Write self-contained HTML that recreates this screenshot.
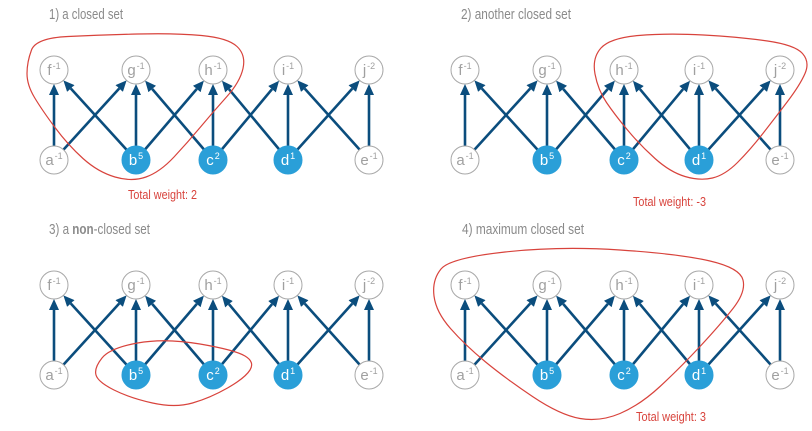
<!DOCTYPE html>
<html>
<head>
<meta charset="utf-8">
<style>
  html, body { margin: 0; padding: 0; background: #ffffff; }
  svg { display: block; }
  .title { font-family: "Liberation Sans", sans-serif; font-size: 15px; fill: #8a8a8a; }
  .tw { font-family: "Liberation Sans", sans-serif; font-size: 13px; fill: #d8433c; }
  .lbl { font-family: "Liberation Sans", sans-serif; font-size: 15px; fill: #a0a0a0; text-anchor: middle; }
  .lblw { font-family: "Liberation Sans", sans-serif; font-size: 15px; fill: #ffffff; text-anchor: middle; }
  .on { fill: #ffffff; stroke: #a8a8a8; stroke-width: 1; }
  .fill { fill: #2a9fd8; stroke: #2a9fd8; stroke-width: 1; }
  .e { stroke: #0b4d7d; stroke-width: 2.6; fill: none; marker-end: url(#ah); }
  .red { fill: none; stroke: #d8433c; stroke-width: 1.2; }
</style>
</head>
<body>
<svg width="812" height="431" viewBox="0 0 812 431" xmlns="http://www.w3.org/2000/svg">
  <defs>
    <marker id="ah" markerWidth="12" markerHeight="10" refX="0" refY="5" orient="auto" markerUnits="userSpaceOnUse">
      <path d="M0,0 L11,5 L0,10 z" fill="#0b4d7d"/>
    </marker>
    <g id="edges">
      <line class="e" x1="54" y1="146" x2="54" y2="95"/>
      <line class="e" x1="63.4" y1="149.7" x2="119.2" y2="88.5"/>
      <line class="e" x1="126.6" y1="149.7" x2="70.8" y2="88.5"/>
      <line class="e" x1="136" y1="146" x2="136" y2="95"/>
      <line class="e" x1="145.1" y1="149.4" x2="196.75" y2="89"/>
      <line class="e" x1="203.9" y1="149.4" x2="152.25" y2="89"/>
      <line class="e" x1="213" y1="146" x2="213" y2="95"/>
      <line class="e" x1="221.96" y1="149.24" x2="272" y2="89.21"/>
      <line class="e" x1="279.04" y1="149.24" x2="229" y2="89.21"/>
      <line class="e" x1="288" y1="146" x2="288" y2="95"/>
      <line class="e" x1="297.37" y1="149.59" x2="352.27" y2="88.59"/>
      <line class="e" x1="359.63" y1="149.59" x2="304.73" y2="88.59"/>
      <line class="e" x1="369" y1="146" x2="369" y2="95"/>
    </g>
  </defs>

  <!-- Titles -->
  <text class="title" x="49" y="19" textLength="74" lengthAdjust="spacingAndGlyphs">1) a closed set</text>
  <text class="title" x="461" y="19" textLength="110" lengthAdjust="spacingAndGlyphs">2) another closed set</text>
  <text class="title" x="49" y="234" textLength="101" lengthAdjust="spacingAndGlyphs">3) a <tspan font-weight="bold">non</tspan>-closed set</text>
  <text class="title" x="462" y="234" textLength="122" lengthAdjust="spacingAndGlyphs">4) maximum closed set</text>

  <!-- Panel 1 -->
  <g>
    <use href="#edges"/>
    <circle class="on" cx="54" cy="70" r="14"/><text class="lbl" x="54" y="75">f<tspan font-size="9" dx="1" dy="-6">-1</tspan></text>
    <circle class="on" cx="136" cy="70" r="14"/><text class="lbl" x="136" y="75">g<tspan font-size="9" dx="1" dy="-6">-1</tspan></text>
    <circle class="on" cx="213" cy="70" r="14"/><text class="lbl" x="213" y="75">h<tspan font-size="9" dx="1" dy="-6">-1</tspan></text>
    <circle class="on" cx="288" cy="70" r="14"/><text class="lbl" x="288" y="75">i<tspan font-size="9" dx="1" dy="-6">-1</tspan></text>
    <circle class="on" cx="369" cy="70" r="14"/><text class="lbl" x="369" y="75">j<tspan font-size="9" dx="1" dy="-6">-2</tspan></text>
    <circle class="on" cx="54" cy="160" r="14"/><text class="lbl" x="54" y="165">a<tspan font-size="9" dx="1" dy="-6">-1</tspan></text>
    <circle class="fill" cx="136" cy="160" r="14"/><text class="lblw" x="136" y="165">b<tspan font-size="9" dx="1" dy="-6">5</tspan></text>
    <circle class="fill" cx="213" cy="160" r="14"/><text class="lblw" x="213" y="165">c<tspan font-size="9" dx="1" dy="-6">2</tspan></text>
    <circle class="fill" cx="288" cy="160" r="14"/><text class="lblw" x="288" y="165">d<tspan font-size="9" dx="1" dy="-6">1</tspan></text>
    <circle class="on" cx="369" cy="160" r="14"/><text class="lbl" x="369" y="165">e<tspan font-size="9" dx="1" dy="-6">-1</tspan></text>
  </g>
  <path class="red" d="M27,73.5 Q27,62 31.5,50 Q36,38 68,36.5 Q100,35 137.5,34 Q175,33 201.5,35.5 Q228,38 237,46.5 Q246,55 243,68.5 Q240,82 226.5,97 Q213,112 200.5,127 Q188,142 174,157 Q160,172 146,177 Q132,182 115,177 Q98,172 83,158.5 Q68,145 55,127.5 Q42,110 34.5,97.5 Q27,85 27,73.5 Z"/>
  <text class="tw" x="128" y="199" textLength="69" lengthAdjust="spacingAndGlyphs">Total weight: 2</text>

  <!-- Panel 2 -->
  <g transform="translate(411,0)">
    <use href="#edges"/>
    <circle class="on" cx="54" cy="70" r="14"/><text class="lbl" x="54" y="75">f<tspan font-size="9" dx="1" dy="-6">-1</tspan></text>
    <circle class="on" cx="136" cy="70" r="14"/><text class="lbl" x="136" y="75">g<tspan font-size="9" dx="1" dy="-6">-1</tspan></text>
    <circle class="on" cx="213" cy="70" r="14"/><text class="lbl" x="213" y="75">h<tspan font-size="9" dx="1" dy="-6">-1</tspan></text>
    <circle class="on" cx="288" cy="70" r="14"/><text class="lbl" x="288" y="75">i<tspan font-size="9" dx="1" dy="-6">-1</tspan></text>
    <circle class="on" cx="369" cy="70" r="14"/><text class="lbl" x="369" y="75">j<tspan font-size="9" dx="1" dy="-6">-2</tspan></text>
    <circle class="on" cx="54" cy="160" r="14"/><text class="lbl" x="54" y="165">a<tspan font-size="9" dx="1" dy="-6">-1</tspan></text>
    <circle class="fill" cx="136" cy="160" r="14"/><text class="lblw" x="136" y="165">b<tspan font-size="9" dx="1" dy="-6">5</tspan></text>
    <circle class="fill" cx="213" cy="160" r="14"/><text class="lblw" x="213" y="165">c<tspan font-size="9" dx="1" dy="-6">2</tspan></text>
    <circle class="fill" cx="288" cy="160" r="14"/><text class="lblw" x="288" y="165">d<tspan font-size="9" dx="1" dy="-6">1</tspan></text>
    <circle class="on" cx="369" cy="160" r="14"/><text class="lbl" x="369" y="165">e<tspan font-size="9" dx="1" dy="-6">-1</tspan></text>
  </g>
  <path class="red" d="M595,74 Q592,58 601,48 Q610,38 638.5,35.5 Q667,33 703.5,35 Q740,37 767.5,41 Q795,45 802.5,53.5 Q810,62 805,73.5 Q800,85 787.5,101.5 Q775,118 762.5,134 Q750,150 737.5,162.5 Q725,175 712.5,178 Q700,181 685,176.5 Q670,172 655,158.5 Q640,145 627.5,130 Q615,115 606.5,102.5 Q598,90 595,74 Z"/>
  <text class="tw" x="633" y="206" textLength="73" lengthAdjust="spacingAndGlyphs">Total weight: -3</text>

  <!-- Panel 3 -->
  <g transform="translate(0,215)">
    <use href="#edges"/>
    <circle class="on" cx="54" cy="70" r="14"/><text class="lbl" x="54" y="75">f<tspan font-size="9" dx="1" dy="-6">-1</tspan></text>
    <circle class="on" cx="136" cy="70" r="14"/><text class="lbl" x="136" y="75">g<tspan font-size="9" dx="1" dy="-6">-1</tspan></text>
    <circle class="on" cx="213" cy="70" r="14"/><text class="lbl" x="213" y="75">h<tspan font-size="9" dx="1" dy="-6">-1</tspan></text>
    <circle class="on" cx="288" cy="70" r="14"/><text class="lbl" x="288" y="75">i<tspan font-size="9" dx="1" dy="-6">-1</tspan></text>
    <circle class="on" cx="369" cy="70" r="14"/><text class="lbl" x="369" y="75">j<tspan font-size="9" dx="1" dy="-6">-2</tspan></text>
    <circle class="on" cx="54" cy="160" r="14"/><text class="lbl" x="54" y="165">a<tspan font-size="9" dx="1" dy="-6">-1</tspan></text>
    <circle class="fill" cx="136" cy="160" r="14"/><text class="lblw" x="136" y="165">b<tspan font-size="9" dx="1" dy="-6">5</tspan></text>
    <circle class="fill" cx="213" cy="160" r="14"/><text class="lblw" x="213" y="165">c<tspan font-size="9" dx="1" dy="-6">2</tspan></text>
    <circle class="fill" cx="288" cy="160" r="14"/><text class="lblw" x="288" y="165">d<tspan font-size="9" dx="1" dy="-6">1</tspan></text>
    <circle class="on" cx="369" cy="160" r="14"/><text class="lbl" x="369" y="165">e<tspan font-size="9" dx="1" dy="-6">-1</tspan></text>
  </g>
  <path class="red" d="M96,375 Q94,368 102,358 Q110,348 137.5,343 Q165,338 200,344 Q235,350 245,356 Q255,362 250,370 Q245,378 227.5,388 Q210,398 192.5,403 Q175,408 152.5,403 Q130,398 114,390 Q98,382 96,375 Z"/>

  <!-- Panel 4 -->
  <g transform="translate(411,215)">
    <use href="#edges"/>
    <circle class="on" cx="54" cy="70" r="14"/><text class="lbl" x="54" y="75">f<tspan font-size="9" dx="1" dy="-6">-1</tspan></text>
    <circle class="on" cx="136" cy="70" r="14"/><text class="lbl" x="136" y="75">g<tspan font-size="9" dx="1" dy="-6">-1</tspan></text>
    <circle class="on" cx="213" cy="70" r="14"/><text class="lbl" x="213" y="75">h<tspan font-size="9" dx="1" dy="-6">-1</tspan></text>
    <circle class="on" cx="288" cy="70" r="14"/><text class="lbl" x="288" y="75">i<tspan font-size="9" dx="1" dy="-6">-1</tspan></text>
    <circle class="on" cx="369" cy="70" r="14"/><text class="lbl" x="369" y="75">j<tspan font-size="9" dx="1" dy="-6">-2</tspan></text>
    <circle class="on" cx="54" cy="160" r="14"/><text class="lbl" x="54" y="165">a<tspan font-size="9" dx="1" dy="-6">-1</tspan></text>
    <circle class="fill" cx="136" cy="160" r="14"/><text class="lblw" x="136" y="165">b<tspan font-size="9" dx="1" dy="-6">5</tspan></text>
    <circle class="fill" cx="213" cy="160" r="14"/><text class="lblw" x="213" y="165">c<tspan font-size="9" dx="1" dy="-6">2</tspan></text>
    <circle class="fill" cx="288" cy="160" r="14"/><text class="lblw" x="288" y="165">d<tspan font-size="9" dx="1" dy="-6">1</tspan></text>
    <circle class="on" cx="369" cy="160" r="14"/><text class="lbl" x="369" y="165">e<tspan font-size="9" dx="1" dy="-6">-1</tspan></text>
  </g>
  <path class="red" d="M434,296 Q432,280 441,269 Q450,258 505,252 Q560,246 620,250 Q680,254 710,261 Q740,268 743,280 Q746,292 733,308.5 Q720,325 700,346.5 Q680,368 660,386.5 Q640,405 620,413.5 Q600,422 580,418.5 Q560,415 532.5,396.5 Q505,378 485,361.5 Q465,345 450.5,328.5 Q436,312 434,296 Z"/>
  <text class="tw" x="636" y="421" textLength="70" lengthAdjust="spacingAndGlyphs">Total weight: 3</text>
</svg>
</body>
</html>
